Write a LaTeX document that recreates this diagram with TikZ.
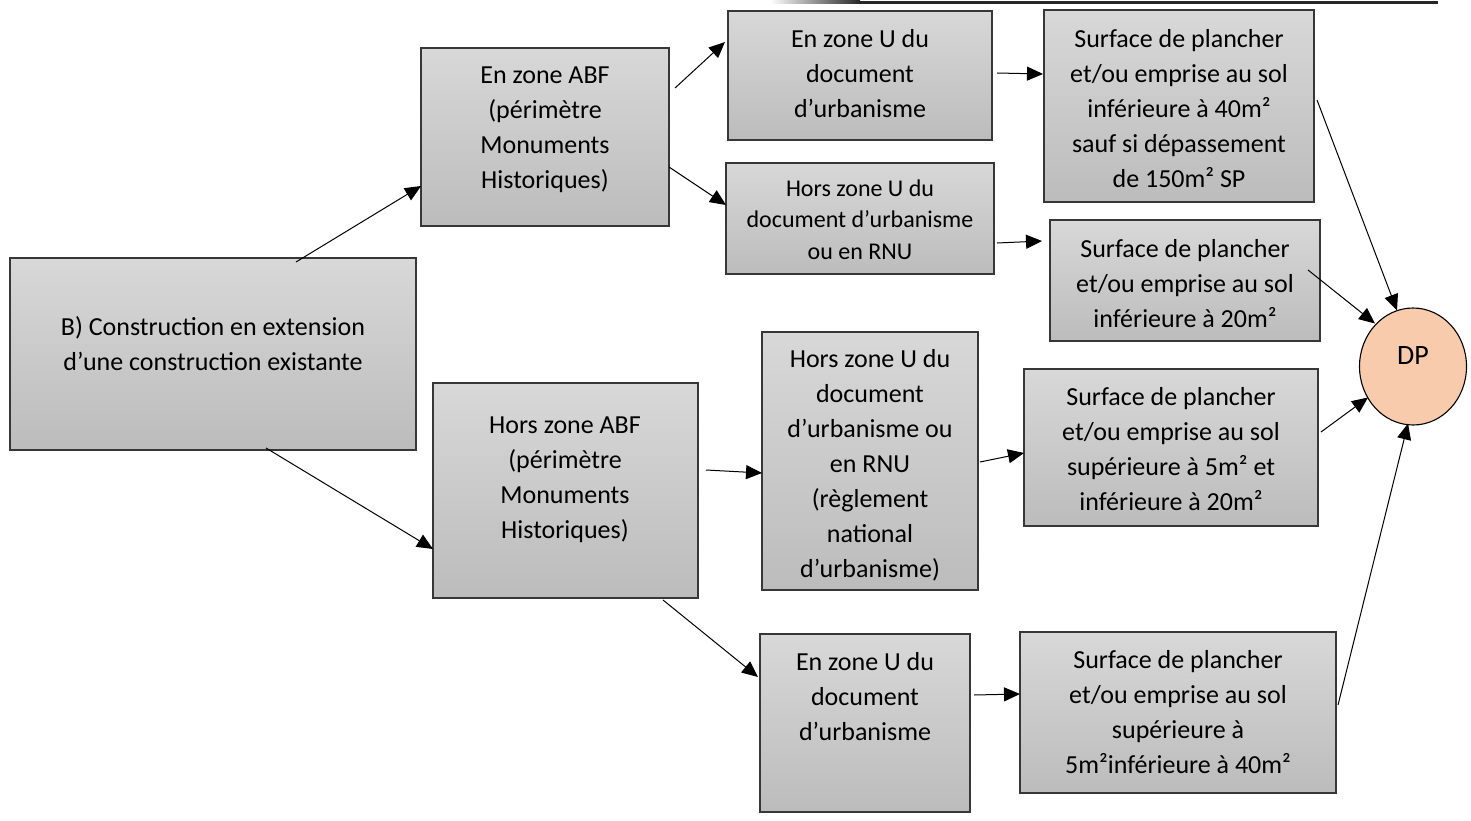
\documentclass[tikz,border=0pt]{standalone}
\usepackage{fontspec}
\setmainfont{Carlito}
\usetikzlibrary{arrows.meta,shapes.geometric,calc}
\definecolor{boxtop}{RGB}{216,216,216}
\definecolor{boxbot}{RGB}{188,188,188}
\definecolor{boxline}{RGB}{55,55,55}
\definecolor{dpfill}{RGB}{248,203,173}
\tikzset{
  gbox/.style={draw=boxline, line width=1.4pt, top color=boxtop, bottom color=boxbot, inner sep=0pt, outer sep=0pt},
  txt/.style={align=center, inner sep=0pt, font=\fontsize{26}{35}\selectfont},
  smalltxt/.style={align=center, inner sep=0pt, font=\fontsize{24}{31.5}\selectfont},
  arr/.style={-{Triangle[length=16pt,width=14pt]}, line width=1pt, black},
}
\newcommand{\gbx}[5]{\node[gbox, minimum width={(#4-#2)*1pt}, minimum height={(#5-#3)*1pt}] (#1) at ({(#2+#4)/2},{(#3+#5)/2}) {};}
\begin{document}
\begin{tikzpicture}[x=1pt,y=-1pt]
\useasboundingbox (0,0) rectangle (1471,821);
% top rule
\fill[left color=white, right color=black!85] (770,0.8) rectangle (860,3.6);
\fill[black!85] (859,0.8) rectangle (1438,3.6);
% boxes
\gbx{B}{10}{258}{416}{450}
\gbx{ABF}{421}{48}{669}{226}
\gbx{Utop}{728}{11}{992}{140}
\gbx{Sforty}{1044}{10}{1314}{202}
\gbx{Hs}{726}{163}{994}{274}
\gbx{Stwenty}{1050}{220}{1320}{341}
\gbx{HABF}{433}{383}{698}{598}
\gbx{Hbig}{762}{332}{978}{590}
\gbx{Sfivetwenty}{1024}{369}{1318}{526}
\gbx{Ubot}{760}{634}{970}{812}
\gbx{Sfiveforty}{1020}{632}{1336}{793}
\node[ellipse, draw=black, line width=1.1pt, fill=dpfill, minimum width=107pt, minimum height=117pt, inner sep=0pt] (DP) at (1413,366.5) {};
% texts
\node[txt] (Bt) at (213,343.5) {B) Construction en extension\\d’une construction existante};
\node[txt] (ABFt) at (545,129.5) {En zone ABF\\(périmètre\\Monuments\\Historiques)};
\node[txt] (Utopt) at (860,74) {En zone U du\\document\\d’urbanisme};
\node[txt] (Sfortyt) at (1179,109) {Surface de plancher\\et/ou emprise au sol\\inférieure à 40m²\\sauf si dépassement\\de 150m² SP};
\node[smalltxt] (Hst) at (860,219.5) {Hors zone U du\\document d’urbanisme\\ou en RNU};
\node[txt] (Stwentyt) at (1185,283.5) {Surface de plancher\\et/ou emprise au sol\\inférieure à 20m²};
\node[txt] (HABFt) at (565,480) {Hors zone ABF\\(périmètre\\Monuments\\Historiques)};
\node[txt] (Hbigt) at (870,465) {Hors zone U du\\document\\d’urbanisme ou\\en RNU\\(règlement\\national\\d’urbanisme)};
\node[txt] (Sfivetwentyt) at (1171,449.5) {Surface de plancher\\et/ou emprise au sol\\supérieure à 5m² et\\inférieure à 20m²};
\node[txt] (Ubott) at (865,696.5) {En zone U du\\document\\d’urbanisme};
\node[txt] (Sfivefortyt) at (1178,712.5) {Surface de plancher\\et/ou emprise au sol\\supérieure à\\5m²inférieure à 40m²};
\node[txt, font=\fontsize{28}{34}\selectfont] (DPt) at (1413,356) {DP};
% connectors
\draw[arr] ($(B.north west)+(286,4)$) -- ($(ABF.north west)+(0,138)$);
\draw[arr] ($(B.north west)+(256,190)$) -- ($(HABF.north west)+(0,166)$);
\draw[arr] ($(ABF.north west)+(254,40)$) -- ($(Utop.north west)+(-3,31)$);
\draw[arr] ($(ABF.north west)+(248,119)$) -- ($(Hs.north west)+(0,42)$);
\draw[arr] ($(Utop.north west)+(269,62)$) -- ($(Sforty.north west)+(-1,64)$);
\draw[arr] ($(Hs.north west)+(271,80)$) -- ($(Stwenty.north west)+(-8,21)$);
\draw[arr] ($(Sforty.north west)+(273,90)$) -- ($(DP.center)+(-16,-56)$);
\draw[arr] ($(Stwenty.north west)+(258,50)$) -- ($(DP.center)+(-38,-43)$);
\draw[arr] ($(HABF.north west)+(273,87)$) -- ($(Hbig.north west)+(0,141)$);
\draw[arr] ($(HABF.north west)+(230,217)$) -- ($(Ubot.north west)+(-2,43)$);
\draw[arr] ($(Hbig.north west)+(218,130)$) -- ($(Sfivetwenty.north west)+(0,84)$);
\draw[arr] ($(Sfivetwenty.north west)+(297,63)$) -- ($(DP.center)+(-45,31)$);
\draw[arr] ($(Ubot.north west)+(214,61)$) -- ($(Sfiveforty.north west)+(0,62)$);
\draw[arr] ($(Sfiveforty.north west)+(318,73)$) -- ($(DP.center)+(-5,57)$);
\end{tikzpicture}
\end{document}
